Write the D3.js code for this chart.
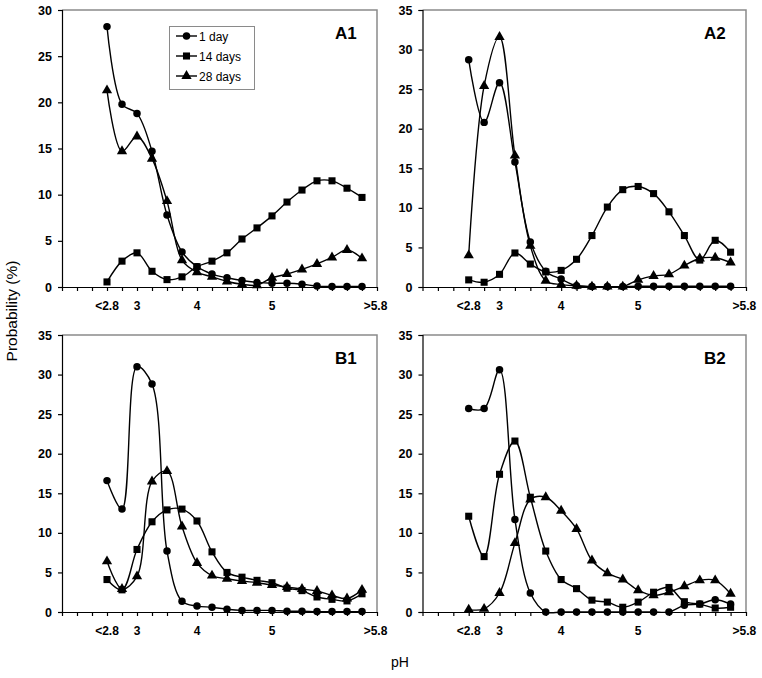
<!DOCTYPE html>
<html><head><meta charset="utf-8">
<script src="https://cdn.jsdelivr.net/npm/d3@7"></script>
<style>body{margin:0;background:#fff}svg{display:block;font-family:"Liberation Sans",Arial,Helvetica,sans-serif}</style>
</head><body>
<svg id="chart" width="762" height="678"></svg>
<script>
// ---- data ----
const categoryIndex = d3.range(18); // 18 pH classes from <2.8 to >5.8
const tickLabelText = ["<2.8", "3", "4", "5", ">5.8"];
const tickLabelCat = [0, 2, 6, 11, 17.9];
const seriesNames = ["1 day", "14 days", "28 days"];

const a1Day1  = [28.2,19.8,18.8,14.7,7.8,3.8,2.2,1.4,1.0,0.7,0.5,0.4,0.4,0.3,0.1,0.05,0.05,0.05];
const a1Day14 = [0.55,2.8,3.7,1.7,0.8,1.1,2.2,2.8,3.7,5.2,6.4,7.7,9.2,10.5,11.5,11.5,10.7,9.7];
const a1Day28 = [21.3,14.7,16.3,13.9,9.3,2.9,1.6,1.1,0.6,0.3,0.2,1.0,1.4,1.9,2.5,3.2,4.0,3.1];

const a2Day1  = [28.7,20.8,25.8,15.8,5.7,2.0,1.0,0.15,0.05,0.05,0.05,0.1,0.1,0.1,0.1,0.1,0.1,0.1];
const a2Day14 = [0.9,0.6,1.6,4.3,2.9,1.9,2.1,3.5,6.5,10.1,12.3,12.7,11.8,9.5,6.5,3.4,5.9,4.4];
const a2Day28 = [4.0,25.4,31.6,16.6,5.2,0.8,0.3,0.15,0.05,0.05,0.05,0.9,1.4,1.6,2.7,3.6,3.7,3.1];

const b1Day1  = [16.6,13.0,31.0,28.8,7.7,1.35,0.75,0.6,0.35,0.2,0.2,0.2,0.1,0.1,0.05,0.05,0.05,0.05];
const b1Day14 = [4.1,2.8,7.9,11.4,12.9,13.0,11.5,7.6,5.0,4.4,4.0,3.7,3.0,2.7,1.9,1.6,1.4,2.3];
const b1Day28 = [6.4,2.9,4.5,16.5,17.8,10.8,6.2,4.6,4.2,3.9,3.7,3.4,3.15,2.9,2.65,2.1,1.7,2.8];

const b2Day1  = [25.7,25.7,30.6,11.7,2.4,0,0,0,0,0,0,0,0,0,0.85,1.0,1.55,1.0];
const b2Day14 = [12.1,7.0,17.4,21.6,14.5,7.7,4.1,2.95,1.5,1.25,0.6,1.25,2.5,3.1,1.3,1.0,0.5,0.6];
const b2Day28 = [0.3,0.4,2.4,8.7,14.2,14.5,12.8,10.5,6.5,4.9,4.1,2.75,2.1,2.5,3.25,4.0,4.0,2.3];

const yMaxA1 = 30, yMaxOther = 35;

// ---- layout ----
const panels = [
  {label:"A1", series:[a1Day1,a1Day14,a1Day28], ymax:yMaxA1, x0:62, x1:377, yTop:10, yBot:287, legend:true},
  {label:"A2", series:[a2Day1,a2Day14,a2Day28], ymax:yMaxOther, x0:422.5, x1:746, yTop:10, yBot:287},
  {label:"B1", series:[b1Day1,b1Day14,b1Day28], ymax:yMaxOther, x0:62, x1:377, yTop:335, yBot:612},
  {label:"B2", series:[b2Day1,b2Day14,b2Day28], ymax:yMaxOther, x0:422.5, x1:746, yTop:335, yBot:612}
];
const symbolTypes = [d3.symbolCircle, d3.symbolSquare, d3.symbolTriangle];
const symbolSizes = [44, 50, 46];

const svg = d3.select("#chart");

panels.forEach(p => {
  const g = svg.append("g");
  const x = d3.scaleLinear().domain([-3, 18]).range([p.x0, p.x1]);
  const y = d3.scaleLinear().domain([0, p.ymax]).range([p.yBot, p.yTop]);

  // frame (top & right)
  g.append("path")
    .attr("d", `M${p.x0},${p.yTop}H${p.x1}V${p.yBot}`)
    .attr("fill","none").attr("stroke","#8a8a8a").attr("stroke-width",1.5);

  // y axis
  const ya = g.append("g").attr("transform",`translate(${p.x0},0)`)
    .call(d3.axisLeft(y).tickValues(d3.range(0, p.ymax+1, 5)).tickSize(4).tickPadding(6));
  ya.selectAll("text").attr("font-size","12.5px").attr("font-weight","bold").attr("fill","#000")
    .attr("font-family","Liberation Sans, Arial, sans-serif");
  ya.selectAll("line,path").attr("stroke","#000").attr("stroke-width",1.2);

  // x axis
  const xa = g.append("g").attr("transform",`translate(0,${p.yBot})`)
    .call(d3.axisBottom(x).tickValues(d3.range(-3, 19)).tickSize(4).tickSizeOuter(0).tickFormat(""));
  xa.selectAll("line,path").attr("stroke","#000").attr("stroke-width",1.2);

  g.selectAll("text.xl").data(tickLabelText).enter().append("text")
    .attr("class","xl")
    .attr("x",(d,i)=>x(tickLabelCat[i])).attr("y",p.yBot+23)
    .attr("text-anchor","middle").attr("font-size","12px").attr("font-weight","bold")
    .text(d=>d);

  // series
  const line = d3.line().x((d,i)=>x(i)).y(d=>y(d)).curve(d3.curveCatmullRom.alpha(0.5));
  p.series.forEach((s, si) => {
    g.append("path").datum(s).attr("d", line)
      .attr("fill","none").attr("stroke","#000").attr("stroke-width",1.4);
  });
  p.series.forEach((s, si) => {
    g.selectAll(null).data(s).enter().append("path")
      .attr("d", d3.symbol().type(symbolTypes[si]).size(symbolSizes[si]))
      .attr("transform",(d,i)=>`translate(${x(i)},${y(d)})`)
      .attr("fill","#000");
  });

  // panel label
  g.append("text").attr("x", p.x1 - 42).attr("y", p.yTop + 29)
    .attr("font-size","17px").attr("font-weight","bold").text(p.label);

  // legend
  if (p.legend) {
    const lg = g.append("g");
    lg.append("rect").attr("x",169.5).attr("y",26.5).attr("width",85).attr("height",63)
      .attr("fill","#fff").attr("stroke","#8a8a8a").attr("stroke-width",1);
    seriesNames.forEach((n, i) => {
      const cy = 36 + i*20;
      lg.append("line").attr("x1",176).attr("x2",197).attr("y1",cy).attr("y2",cy)
        .attr("stroke","#000").attr("stroke-width",1.4);
      lg.append("path").attr("d", d3.symbol().type(symbolTypes[i]).size(symbolSizes[i]))
        .attr("transform",`translate(186.5,${cy})`).attr("fill","#000");
      lg.append("text").attr("x",199).attr("y",cy+4.5).attr("font-size","12px").text(n);
    });
  }
});

// axis titles
svg.append("text").attr("transform","translate(17,311) rotate(-90)")
  .attr("text-anchor","middle").attr("font-size","15.5px").text("Probability (%)");
svg.append("text").attr("x",400).attr("y",667).attr("text-anchor","middle")
  .attr("font-size","14px").text("pH");
</script>
</body></html>
